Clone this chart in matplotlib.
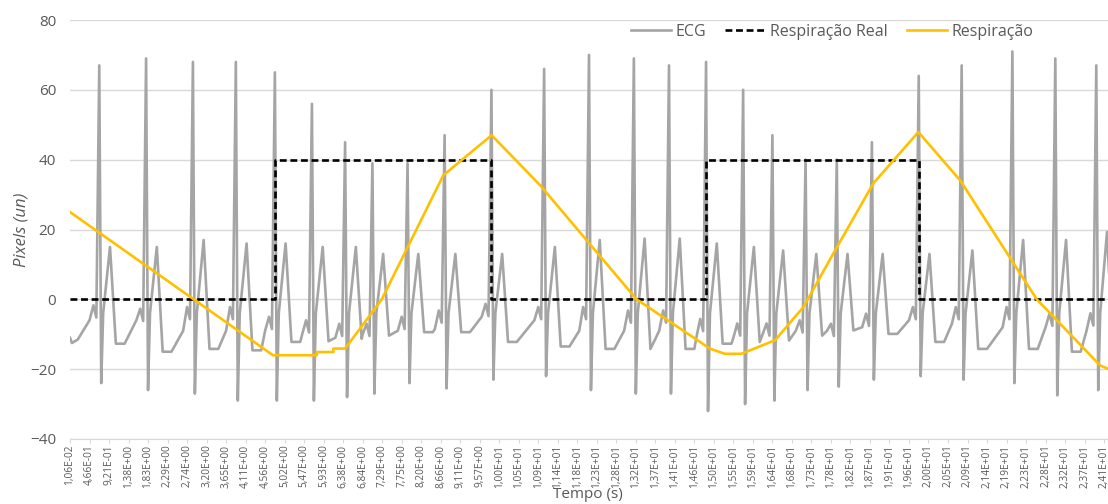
import matplotlib
matplotlib.use("Agg")
import matplotlib.pyplot as plt
import numpy as np

plt.rcParams['font.family'] = ['Open Sans', 'DejaVu Sans']

# eixo x: uma categoria por amostra, rótulo a cada 10 amostras
tick_labels = [
    "1,06E-02", "4,66E-01", "9,21E-01", "1,38E+00", "1,83E+00", "2,29E+00", "2,74E+00",
    "3,20E+00", "3,65E+00", "4,11E+00", "4,56E+00", "5,02E+00", "5,47E+00", "5,93E+00",
    "6,38E+00", "6,84E+00", "7,29E+00", "7,75E+00", "8,20E+00", "8,66E+00", "9,11E+00",
    "9,57E+00", "1,00E+01", "1,05E+01", "1,09E+01", "1,14E+01", "1,18E+01", "1,23E+01",
    "1,28E+01", "1,32E+01", "1,37E+01", "1,41E+01", "1,46E+01", "1,50E+01", "1,55E+01",
    "1,59E+01", "1,64E+01", "1,68E+01", "1,73E+01", "1,78E+01", "1,82E+01", "1,87E+01",
    "1,91E+01", "1,96E+01", "2,00E+01", "2,05E+01", "2,09E+01", "2,14E+01", "2,19E+01",
    "2,23E+01", "2,28E+01", "2,32E+01", "2,37E+01", "2,41E+01",
]
n_samples = 532

# ECG: um registo por batimento (indice do pico R e amplitudes)
r_idx = [15, 39, 63, 85, 105, 124, 141, 155, 173, 192, 216, 243, 266, 289, 307, 326,
         345, 360, 377, 393, 411, 435, 457, 483, 505, 526]
r_val = [67, 69, 68, 68, 65, 56, 45, 39, 39, 47, 60, 66, 70, 69, 67, 68,
         60, 47, 40, 40, 45, 64, 67, 71, 69, 67]
s_val = [-24, -26, -27, -29, -29, -29, -28, -27, -24, -25.5, -23, -22, -26, -27, -27, -32,
         -30, -29, -26, -25, -23, -22, -23, -24, -27.5, -26]
t_val = [15, 15, 17, 16, 16, 15, 15, 13, 13, 13, 13, 15, 17, 17.4, 17.4, 16,
         15, 14, 13, 13, 13, 13, 14, 17, 17, 19.3]
p_val = [-1.7, -2.7, -2.2, -2.2, -5, -6, -7, -7, -5, -3.2, -1.3, -2.2, -2.2, -3.2, -3.2, -5.6,
         -6.9, -6.9, -6, -7, -4.1, -2.2, -2.2, -2.2, -4.1, -4]
pre_val = [-6, -6, -9, -9, -9, -10, -11, -10, -9, -8.5, -5, -6, -9, -9, -9, -11,
           -11, -10, -9, -9, -8, -6, -7, -8, -8, -9]
post_val = [-12.7, -15, -14.2, -14.6, -12.2, -12, -11.3, -10.4, -9.4, -9.4, -12.2, -13.5, -14.2, -14.2, -14.2, -12.7,
            -12.2, -11.8, -10.4, -8.9, -9.9, -12.2, -14.2, -14.2, -15, -15]
ecg_start_idx = [0, 1, 4]
ecg_start_val = [-11, -12.5, -11.5]

# Respiração Real (onda quadrada)
real_idx = [0, 105, 105, 216, 216, 326, 326, 435, 435, 532]
real_val = [0, 0, 40, 40, 0, 0, 40, 40, 0, 0]

# Respiração estimada (vertices da curva)
resp_idx = [0, 104, 126.5, 126.5, 135, 135, 141, 159.8, 191.3, 216.1, 240.9, 290.4, 322.9,
            327.9, 335.6, 344.1, 361.4, 375.9, 391.2, 411.7, 434.8, 456.2, 495.5, 527.9, 532]
resp_val = [25, -16, -16, -15.1, -15.1, -14.1, -14.1, 0, 35.5, 47, 32.7, 0, -12.2,
            -14.1, -15.6, -15.6, -11.7, -2.2, 13.1, 33.2, 47.9, 34.1, 0, -18.9, -19.9]

# montar o ECG batimento a batimento
ex, ey = list(ecg_start_idx), list(ecg_start_val)
for k, r in enumerate(r_idx):
    ex += [r - 5, r - 3, r - 1.5, r, r + 1, r + 2, r + 5.5, r + 8.5]
    ey += [pre_val[k], p_val[k], p_val[k] - 3.5, r_val[k], s_val[k], -4, t_val[k], post_val[k]]
    if k + 1 < len(r_idx) and r + 13 < r_idx[k + 1] - 5:
        ex.append(r + 13)
        ey.append(post_val[k])

fig = plt.figure(figsize=(11.08, 5.04), dpi=100)
ax = fig.add_axes([70 / 1108, 1 - 439 / 504, 1 - 70 / 1108, (439 - 20) / 504])

ax.plot(ex, ey, color='#A5A5A5', lw=1.9, label='ECG', solid_joinstyle='round')
ax.plot(real_idx, real_val, color='black', lw=1.9, ls=(0, (2.6, 1.4)), label='Respiração Real')
ax.plot(resp_idx, resp_val, color='#FFC000', lw=1.9, label='Respiração')

ax.set_xlim(0, n_samples)
ax.set_ylim(-40, 80)
ax.set_yticks(np.arange(-40, 81, 20))
ax.set_xticks(np.arange(len(tick_labels)) * 10)
ax.set_xticklabels(tick_labels, rotation=90,
                   family=['Liberation Sans Narrow', 'Open Sans', 'DejaVu Sans'])

ax.grid(axis='y', color='#D9D9D9', lw=1)
ax.set_axisbelow(True)
for s in ['top', 'right', 'left']:
    ax.spines[s].set_visible(False)
ax.spines['bottom'].set_color('#D9D9D9')
ax.tick_params(axis='y', length=0, pad=10, labelsize=11, labelcolor='#595959')
ax.tick_params(axis='x', length=3, color='#D9D9D9', pad=1, labelsize=7.3, labelcolor='#595959')

ax.set_ylabel('Pixels (un)', fontsize=12, color='#595959', style='italic')
ax.yaxis.set_label_coords(-40 / 1038, 0.5)
fig.text(588 / 1108, 1 - 495 / 504, 'Tempo (s)', ha='center', va='center', fontsize=11, color='#595959')

leg = ax.legend(loc='center', bbox_to_anchor=(832 / 1108, 1 - 32 / 504), bbox_transform=fig.transFigure,
                ncol=3, frameon=False, fontsize=11.5, handlelength=2.5, columnspacing=1.2, handletextpad=0.3)
for t in leg.get_texts():
    t.set_color('#595959')

fig.savefig('out.png', dpi=100)
